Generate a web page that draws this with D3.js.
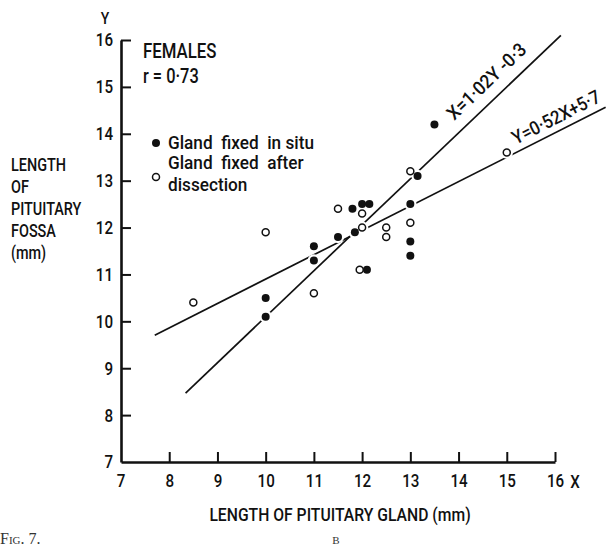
<!DOCTYPE html>
<html>
<head>
<meta charset="utf-8">
<script src="https://cdn.jsdelivr.net/npm/d3@7"></script>
<style>
  html, body { margin: 0; padding: 0; background: #fff; }
  svg { display: block; }
  .lbl { font-family: Roboto, "Liberation Sans", sans-serif; font-weight: 500; fill: #111; white-space: pre; }
</style>
</head>
<body>
<svg id="chart" width="606" height="547"></svg>
<script>
// Gland length (X, mm) vs fossa length (Y, mm), females
const inSituX = [10, 10, 11, 11, 11.5, 11.8, 11.85, 12, 12.15, 12.1, 13, 13, 13, 13.15, 13.5];
const inSituY = [10.5, 10.1, 11.6, 11.3, 11.8, 12.4, 11.9, 12.5, 12.5, 11.1, 12.5, 11.7, 11.4, 13.1, 14.2];
const dissectX = [8.5, 10, 11, 11.5, 12, 12, 12.5, 12.5, 11.95, 13, 13, 15];
const dissectY = [10.4, 11.9, 10.6, 12.4, 12.3, 12.0, 12.0, 11.8, 11.1, 13.2, 12.1, 13.6];
const xTicks = [7, 8, 9, 10, 11, 12, 13, 14, 15, 16];
const yTicks = [7, 8, 9, 10, 11, 12, 13, 14, 15, 16];
// Regression lines: Y on X and X on Y
const yOnX = { slope: 0.52, intercept: 5.7, xFrom: 7.7, xTo: 17.05 };
const xOnY = { slope: 1.02, intercept: -0.3, yFrom: 8.47, yTo: 16.1 };

const svg = d3.select("#chart");
const x = d3.scaleLinear().domain([7, 16]).range([121, 555]);
const y = d3.scaleLinear().domain([7, 16]).range([462, 40]);

const SX = 0.82; // narrow lettering

// text helper: condensed horizontally around its anchor point
function label(px, py, str, size, anchor = "start", rot = 0, sx = SX) {
  return svg.append("text").attr("class", "lbl")
    .attr("transform", `translate(${px},${py}) rotate(${rot}) scale(${sx},1)`)
    .attr("font-size", size).attr("text-anchor", anchor).text(str);
}

// Axes: ticks point inward
const xAxis = d3.axisBottom(x).tickValues(xTicks.slice(1)).tickSizeInner(-10).tickSizeOuter(0).tickPadding(12).tickFormat(d3.format("d"));
const yAxis = d3.axisLeft(y).tickValues(yTicks.slice(1)).tickSizeInner(-10).tickSizeOuter(0).tickPadding(8).tickFormat(d3.format("d"));

const gx = svg.append("g").attr("transform", `translate(0,${y(7)})`).call(xAxis);
const gy = svg.append("g").attr("transform", `translate(${x(7)},0)`).call(yAxis);
[gx, gy].forEach(g => {
  g.select(".domain").attr("stroke", "#111").attr("stroke-width", 2.6);
  g.selectAll(".tick line").attr("stroke", "#111").attr("stroke-width", 2);
  g.selectAll(".tick text").attr("class", "lbl").attr("font-family", null).attr("font-size", 18.5)
    .each(function () {
      const t = d3.select(this);
      const tx = +t.attr("x") || 0;
      t.attr("x", 0).attr("transform", `translate(${tx},0) scale(${SX},1)`);
    });
});
gx.selectAll(".tick text").attr("dy", "0.71em");
// origin labels
label(x(7), y(7) + 12, xTicks[0], 18.5, "middle").attr("dy", "0.71em");
label(x(7) - 8, y(7), yTicks[0], 18.5, "end").attr("dy", "0.32em");

// axis letters
label(105, 24, "Y", 17, "middle");
label(575, 488, "X", 18.5, "middle");

// axis titles
label(340, 521, "LENGTH OF PITUITARY GLAND (mm)", 18.5, "middle", 0, 0.85);
const yTitle = ["LENGTH", "OF", "PITUITARY", "FOSSA", "(mm)"];
yTitle.forEach((d, i) => label(11, 171 + i * 22, d, 18.5, "start", 0, 0.78));

// annotation
label(143, 58, "FEMALES", 20.5);
label(143, 83, "r = 0·73", 20);

// regression lines
const lineGen = d3.line().x(d => x(d[0])).y(d => y(d[1]));
const l1 = [[yOnX.xFrom, yOnX.slope * yOnX.xFrom + yOnX.intercept], [yOnX.xTo, yOnX.slope * yOnX.xTo + yOnX.intercept]];
const l2 = [[xOnY.slope * xOnY.yFrom + xOnY.intercept, xOnY.yFrom], [xOnY.slope * xOnY.yTo + xOnY.intercept, xOnY.yTo]];
svg.append("g").selectAll("path").data([l1, l2]).join("path")
  .attr("d", lineGen).attr("fill", "none").attr("stroke", "#111").attr("stroke-width", 1.7);

// line equations, set along each line
function angleOf(p) {
  return Math.atan2(y(p[1][1]) - y(p[0][1]), x(p[1][0]) - x(p[0][0])) * 180 / Math.PI;
}
label(491, 86, "X=1·02Y -0·3", 19, "middle", angleOf(l2), 0.92);
label(559, 123, "Y=0·52X+5·7", 19, "middle", angleOf(l1), 0.88);

// points, with a white halo that breaks the lines
const filled = inSituX.map((v, i) => [v, inSituY[i]]);
const open = dissectX.map((v, i) => [v, dissectY[i]]);
const pts = svg.append("g");
pts.selectAll("circle.halo").data(filled.concat(open)).join("circle").attr("class", "halo")
  .attr("cx", d => x(d[0])).attr("cy", d => y(d[1])).attr("r", 6.2).attr("fill", "#fff");
pts.selectAll("circle.f").data(filled).join("circle").attr("class", "f")
  .attr("cx", d => x(d[0])).attr("cy", d => y(d[1])).attr("r", 4.0).attr("fill", "#111");
pts.selectAll("circle.o").data(open).join("circle").attr("class", "o")
  .attr("cx", d => x(d[0])).attr("cy", d => y(d[1])).attr("r", 3.5).attr("fill", "#fff")
  .attr("stroke", "#111").attr("stroke-width", 1.5);

// legend
svg.append("circle").attr("cx", 156).attr("cy", 143).attr("r", 4.0).attr("fill", "#111");
label(168, 148.5, "Gland  fixed  in situ", 18.5, "start", 0, 0.93);
svg.append("circle").attr("cx", 156).attr("cy", 177).attr("r", 3.5).attr("fill", "#fff").attr("stroke", "#111").attr("stroke-width", 1.5);
label(168, 169, "Gland  fixed  after", 18.5, "start", 0, 0.93);
label(168, 191, "dissection", 18.5, "start", 0, 0.93);

// figure caption
svg.append("text").attr("x", 0).attr("y", 544).attr("font-family", "\"Liberation Serif\", serif")
  .attr("font-size", 16).attr("font-variant", "small-caps").attr("fill", "#333").text("Fig. 7.");
svg.append("text").attr("x", 336).attr("y", 544).attr("font-family", "\"Liberation Serif\", serif")
  .attr("font-size", 11).attr("text-anchor", "middle").attr("fill", "#333").text("B");
</script>
</body>
</html>
